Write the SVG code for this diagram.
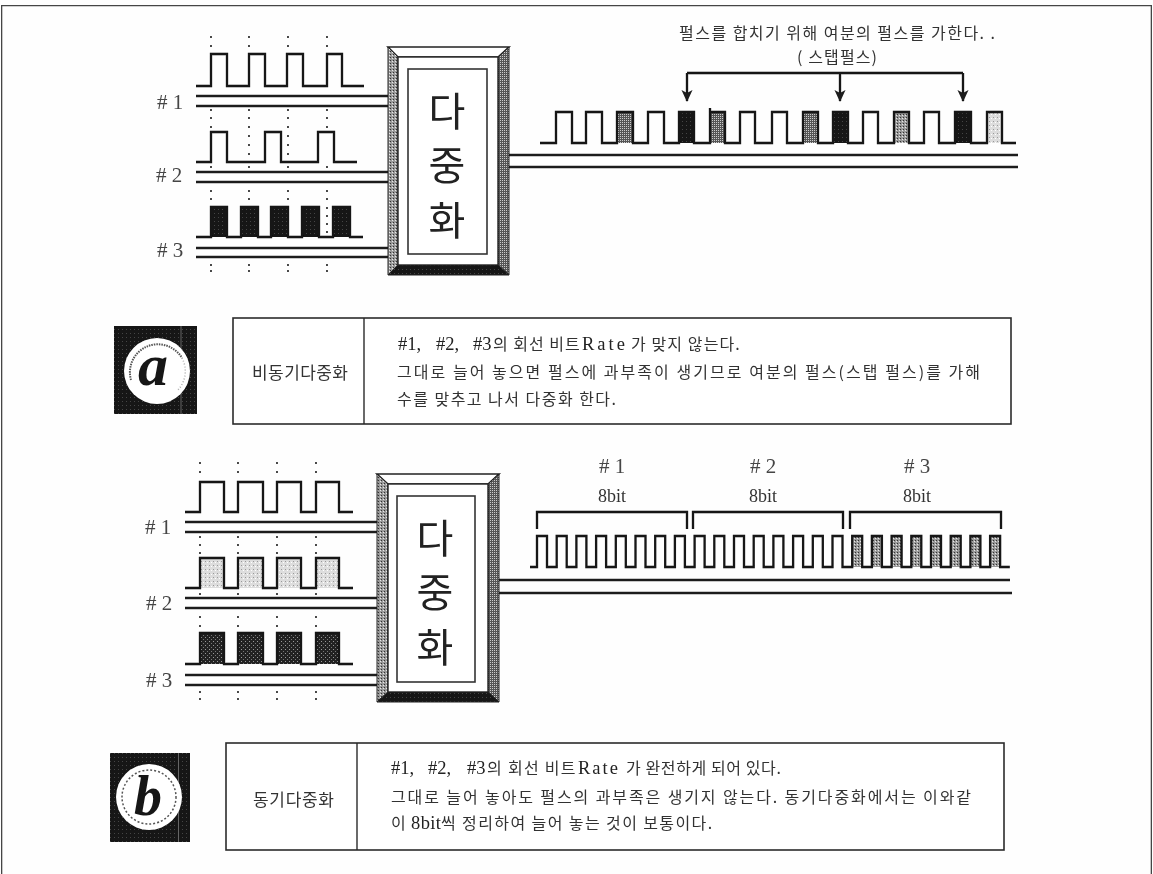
<svg xmlns="http://www.w3.org/2000/svg" width="1153" height="874" viewBox="0 0 1153 874">
<style>
.t{font-family:"Liberation Serif","Noto Sans CJK KR",serif;fill:#333}
.k{font-family:"Noto Sans CJK KR","Liberation Sans",sans-serif;fill:#333}
.b{font-size:16px}
.s{font-family:"Liberation Serif",serif;font-size:18.500px;fill:#222}
.big{font-family:"Noto Sans CJK KR",sans-serif;font-size:40px;fill:#222;text-anchor:middle}
.n{font-size:21px;fill:#444}
.m{font-size:18px;text-anchor:middle}
.l{fill:none;stroke:#141414;stroke-width:2.300}
.w{fill:none;stroke:#1a1a1a;stroke-width:2.600}
.d{fill:none;stroke:#222;stroke-width:2.200;stroke-linecap:round}
.fr{fill:#fff;stroke:#2a2a2a;stroke-width:1.600}
.L{font-family:"Liberation Serif",serif;font-weight:bold;font-style:italic;fill:#161616;text-anchor:middle}
</style>
<defs>
<filter id="soft" x="0" y="0" width="100%" height="100%"><feGaussianBlur stdDeviation="0.5"/></filter>
<pattern id="dk" width="4" height="4" patternUnits="userSpaceOnUse"><rect width="4" height="4" fill="#222"/><rect x="1" y="1" width="1" height="1" fill="#999"/><rect x="3" y="3" width="1" height="1" fill="#777"/></pattern>
<pattern id="md" width="2" height="2" patternUnits="userSpaceOnUse"><rect width="2" height="2" fill="#555"/><rect width="1" height="1" fill="#ccc"/></pattern>
<pattern id="gr" width="3" height="3" patternUnits="userSpaceOnUse"><rect width="3" height="3" fill="#9a9a9a"/><rect width="1" height="1" fill="#333"/><rect x="2" y="1" width="1" height="1" fill="#e8e8e8"/></pattern>
<pattern id="lt" width="4" height="4" patternUnits="userSpaceOnUse"><rect width="4" height="4" fill="#ddd"/><rect x="1" y="1" width="1" height="1" fill="#999"/><rect x="3" y="2" width="1" height="1" fill="#fff"/></pattern>
<pattern id="bk" width="4" height="4" patternUnits="userSpaceOnUse"><rect width="4" height="4" fill="#121212"/><rect x="2" y="1" width="1" height="1" fill="#444"/></pattern>
<marker id="ah" markerUnits="userSpaceOnUse" markerWidth="12" markerHeight="12" refX="5.500" refY="11" orient="0" viewBox="0 0 11 12"><polygon points="0,0 5.500,3 11,0 5.500,12" fill="#1c1c1c"/></marker>
</defs>
<rect width="1153" height="874" fill="#fefefe"/>
<g filter="url(#soft)">
<g id="page-frame"><path d="M1.500 874V5.500H1151.500V874" fill="none" stroke="#444" stroke-width="1.600"/></g>

<g id="connectors">
<path class="w" d="M196 96H388M196 106H388M196 172H388M196 182H388M196 248H388M196 257H388"/>
<path class="w" d="M509 155H1018M509 167H1018"/>
<path class="w" d="M185 522H378M185 532H378M185 598H378M185 608H378M185 675H378M185 685H378"/>
<path class="w" d="M499 580H1010M499 593H1012"/>
<path class="l" d="M687 73H963"/>
<path class="l" d="M687 73V101" marker-end="url(#ah)"/>
<path class="l" d="M840 73V101" marker-end="url(#ah)"/>
<path class="l" d="M963 73V101" marker-end="url(#ah)"/>
</g>

<g id="a-dots">
<path class="d" d="M211 37h0M211 46h0M249 37h0M249 46h0M288 37h0M288 46h0M327 37h0M327 46h0M211 110h0M211 118h0M211 127h0M249 110h0M249 118h0M249 127h0M249 136h0M249 145h0M249 154h0M288 110h0M288 118h0M288 127h0M288 136h0M288 145h0M288 154h0M288 167h0M327 110h0M327 118h0M327 127h0M249 167h0M211 167h0M327 167h0M211 191h0M211 199h0M249 191h0M249 199h0M288 191h0M288 199h0M327 191h0M327 199h0M327 208h0M327 216h0M327 224h0M327 232h0M211 265h0M211 271h0M249 265h0M249 271h0M288 265h0M288 271h0M327 265h0M327 271h0"/>
</g>
<g id="a-pulse-1"><path class="l" d="M196 86H211V54H227V86H249V54H265V86H287V54H303V86H327V54H342V86H364"/></g>
<g id="a-pulse-2"><path class="l" d="M196 162H211V132H227V162H265V132H281V162H318V132H334V162H357"/></g>
<g id="a-pulse-3">
<path fill="url(#bk)" d="M211 207h16v30h-16zM241 207h17v30h-17zM271 207h17v30h-17zM302 207h17v30h-17zM333 207h17v30h-17z"/>
<path class="l" d="M196 237H211V207H227V237H241V207H258V237H271V207H288V237H302V207H319V237H333V207H350V237H363"/>
</g>
<g id="a-labels">
<text class="t n" x="157" y="109"># 1</text>
<text class="t n" x="156" y="182"># 2</text>
<text class="t n" x="157" y="257"># 3</text>
</g>

<g id="mux-a">
<rect x="388" y="47" width="121" height="228" fill="#fff"/>
<polygon points="388,47 509,47 498,57 398,57" fill="#fff" stroke="#222" stroke-width="1.600"/>
<polygon points="388,47 398,57 398,265 388,275" fill="url(#gr)" stroke="#222" stroke-width="1"/>
<polygon points="509,47 498,57 498,265 509,275" fill="url(#md)" stroke="#222" stroke-width="1"/>
<polygon points="388,275 398,265 498,265 509,275" fill="url(#bk)" stroke="#222" stroke-width="1"/>
<rect x="398" y="57" width="100" height="208" fill="#fff" stroke="#222" stroke-width="1.400"/>
<rect x="408" y="69" width="79" height="185" fill="#fff" stroke="#333" stroke-width="1.600"/>
<text class="big"><tspan x="447" y="126">다</tspan><tspan x="447" y="180">중</tspan><tspan x="447" y="235">화</tspan></text>
</g>

<g id="a-output">
<path fill="url(#md)" d="M617 112h16v31h-16zM710 112h15v31h-15zM803 112h15v31h-15z"/>
<path fill="url(#bk)" d="M679 112h15v31h-15zM833 112h15v31h-15zM955 112h16v31h-16z"/>
<path fill="url(#gr)" d="M894 112h15v31h-15z"/>
<path fill="url(#lt)" d="M987 112h15v31h-15z"/>
<path class="l" d="M540 143H556V112H572V143H586V112H602V143H617V112H633V143H648V112H664V143H679V112H694V143H710V108M710 112H725V143H740V112H755V143H772V112H787V143H803V112H818V143H833V112H848V143H863V112H878V143H894V112H909V143H924V112H939V143H955V112H971V143H987V112H1002V143H1016"/>
<text class="k" x="679" y="39" font-size="16" textLength="316">펄스를 합치기 위해 여분의 펄스를 가한다. .</text>
<text class="k" x="797" y="63" font-size="16" textLength="80">( 스탭펄스)</text>
</g>

<g id="badge-a">
<rect x="114" y="326" width="83" height="88" fill="url(#bk)"/>
<rect x="180.500" y="326" width="1" height="88" fill="#666"/>
<circle cx="157" cy="371" r="33" fill="#fff"/>
<path d="M131 380A28 28 0 0 1 182 358" fill="none" stroke="#555" stroke-width="2" stroke-dasharray="1.500 1"/>
<path d="M182 358A28 28 0 0 1 178 390" fill="none" stroke="#aaa" stroke-width="1.500" stroke-dasharray="1 2"/>
<text class="L" x="153" y="385" font-size="60">a</text>
</g>
<g id="table-a">
<rect class="fr" x="233" y="318" width="778" height="106"/>
<path d="M364 318V424" stroke="#2a2a2a" stroke-width="1.400"/>
<text class="k" x="252" y="379" font-size="17" textLength="96">비동기다중화</text>
<text class="k b" y="350"><tspan class="s" x="398">#1,</tspan><tspan class="s" x="436">#2,</tspan><tspan class="s" x="473">#3</tspan><tspan x="493" letter-spacing="1">의 회선 비트</tspan><tspan class="s" x="582" letter-spacing="3">Rate</tspan><tspan x="631" letter-spacing="1.100">가 맞지 않는다.</tspan></text>
<text class="k b" x="397" y="378" textLength="583">그대로 늘어 놓으면 펄스에 과부족이 생기므로 여분의 펄스(스탭 펄스)를 가해</text>
<text class="k b" x="397" y="405" textLength="219">수를 맞추고 나서 다중화 한다.</text>
</g>

<g id="b-dots">
<path class="d" d="M200 463h0M200 472h0M238 463h0M238 472h0M277 463h0M277 472h0M316 463h0M316 472h0M200 537h0M200 545h0M200 553h0M238 537h0M238 545h0M238 553h0M277 537h0M277 545h0M277 553h0M316 537h0M316 545h0M316 553h0M200 594h0M238 594h0M277 594h0M316 594h0M200 617h0M200 626h0M238 617h0M238 626h0M277 617h0M277 626h0M316 617h0M316 626h0M200 692h0M200 699h0M238 692h0M238 699h0M277 692h0M277 699h0M316 692h0M316 699h0"/>
</g>
<g id="b-pulse-1"><path class="l" d="M185 512H200V482H224V512H238V482H263V512H277V482H301V512H316V482H339V512H353"/></g>
<g id="b-pulse-2">
<path fill="url(#lt)" d="M200 558h24v30h-24zM238 558h25v30h-25zM277 558h24v30h-24zM316 558h23v30h-23z"/>
<path class="l" d="M185 588H200V558H224V588H238V558H263V588H277V558H301V588H316V558H339V588H353"/>
</g>
<g id="b-pulse-3">
<path fill="url(#dk)" d="M200 633h24v31h-24zM238 633h25v31h-25zM277 633h24v31h-24zM316 633h23v31h-23z"/>
<path class="l" d="M185 664H200V633H224V664H238V633H263V664H277V633H301V664H316V633H339V664H353"/>
</g>
<g id="b-labels">
<text class="t n" x="145" y="534"># 1</text>
<text class="t n" x="146" y="610"># 2</text>
<text class="t n" x="146" y="687"># 3</text>
</g>

<g id="mux-b">
<rect x="377" y="474" width="122" height="228" fill="#fff"/>
<polygon points="377,474 499,474 488,484 388,484" fill="#fff" stroke="#222" stroke-width="1.600"/>
<polygon points="377,474 388,484 388,692 377,702" fill="url(#gr)" stroke="#222" stroke-width="1"/>
<polygon points="499,474 488,484 488,692 499,702" fill="url(#md)" stroke="#222" stroke-width="1"/>
<polygon points="377,702 388,692 488,692 499,702" fill="url(#bk)" stroke="#222" stroke-width="1"/>
<rect x="388" y="484" width="100" height="208" fill="#fff" stroke="#222" stroke-width="1.400"/>
<rect x="397" y="496" width="78" height="186" fill="#fff" stroke="#333" stroke-width="1.600"/>
<text class="big"><tspan x="435" y="553">다</tspan><tspan x="435" y="607">중</tspan><tspan x="435" y="662">화</tspan></text>
</g>

<g id="b-output">
<path fill="url(#gr)" d="M852.200 536h10v31h-10zM871.900 536h10v31h-10zM891.600 536h10v31h-10zM911.300 536h10v31h-10zM931 536h10v31h-10zM950.700 536h10v31h-10zM970.400 536h10v31h-10zM990.100 536h10v31h-10z"/>
<path class="l" d="M530 567H537
v-31h10v31h9.700v-31h10v31h9.700v-31h10v31h9.700v-31h10v31h9.700
v-31h10v31h9.700v-31h10v31h9.700v-31h10v31h9.700v-31h10v31h9.700
v-31h10v31h9.700v-31h10v31h9.700v-31h10v31h9.700v-31h10v31h9.700
v-31h10v31h9.700v-31h10v31h9.700v-31h10v31h9.700v-31h10v31h9.700
v-31h10v31h9.700v-31h10v31h9.700v-31h10v31h9.700v-31h10v31h9.700
v-31h10v31h9.700v-31h10v31h9.700v-31h10v31h9.700v-31h10v31h9.700"/>
<path class="l" stroke-width="1.600" d="M537 529V512H687V529M693 529V512H843V529M850 529V512H1001V529"/>
<text class="t n" x="612" y="473" text-anchor="middle"># 1</text>
<text class="t m" x="612" y="502">8bit</text>
<text class="t n" x="763" y="473" text-anchor="middle"># 2</text>
<text class="t m" x="763" y="502">8bit</text>
<text class="t n" x="917" y="473" text-anchor="middle"># 3</text>
<text class="t m" x="917" y="502">8bit</text>
</g>

<g id="badge-b">
<rect x="110" y="753" width="80" height="89" fill="url(#bk)"/>
<rect x="178" y="753" width="1" height="89" fill="#666"/>
<circle cx="149" cy="797" r="33" fill="#fff"/>
<circle cx="149" cy="797" r="27" fill="none" stroke="#555" stroke-width="1.500" stroke-dasharray="2 2"/>
<text class="L" x="148" y="815" font-size="56">b</text>
</g>
<g id="table-b">
<rect class="fr" x="226" y="743" width="778" height="107"/>
<path d="M357 743V850" stroke="#2a2a2a" stroke-width="1.400"/>
<text class="k" x="253" y="806" font-size="17" textLength="81">동기다중화</text>
<text class="k b" y="774"><tspan class="s" x="391">#1,</tspan><tspan class="s" x="428">#2,</tspan><tspan class="s" x="467">#3</tspan><tspan x="487" letter-spacing="1.300">의 회선 비트</tspan><tspan class="s" x="578" letter-spacing="2">Rate</tspan><tspan x="626" letter-spacing="0.600">가 완전하게 되어 있다.</tspan></text>
<text class="k b" x="391" y="803" textLength="580">그대로 늘어 놓아도 펄스의 과부족은 생기지 않는다. 동기다중화에서는 이와같</text>
<text class="k b" y="829"><tspan x="391">이</tspan><tspan class="s" x="411" letter-spacing="0.400">8bit</tspan><tspan x="441" letter-spacing="1.400">씩 정리하여 늘어 놓는 것이 보통이다.</tspan></text>
</g>
</g>
</svg>
